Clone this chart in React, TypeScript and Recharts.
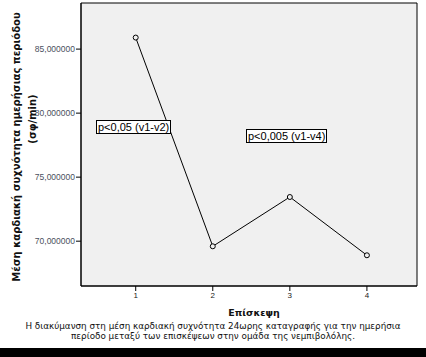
import { LineChart, Line, XAxis, YAxis, ReferenceArea } from "recharts";

const visits = [1, 2, 3, 4];
const meanHeartRate = [85.9, 69.6, 73.45, 68.9];
const yTicks = [70, 75, 80, 85];
const yAxisTitle = "Μέση καρδιακή συχνότητα ημερήσιας περιόδου";
const yAxisUnit = "(σφ/min)";
const xAxisTitle = "Επίσκεψη";
const captionLines = [
  "Η διακύμανση στη μέση καρδιακή συχνότητα 24ωρης καταγραφής για την ημερήσια",
  "περίοδο μεταξύ των επισκέψεων στην ομάδα της νεμπιβολόλης.",
];
const notes = ["p<0,05 (v1-v2)", "p<0,005 (v1-v4)"];

const data = visits.map((v, i) => ({ visit: v, hr: meanHeartRate[i] }));

const X_DOMAIN: [number, number] = [0.29, 4.65];
const Y_DOMAIN: [number, number] = [66.5, 88.6];

const fmt = (v: number) => v.toFixed(6).replace(".", ",");

const noteBox: React.CSSProperties = {
  position: "absolute",
  background: "#fff",
  border: "1px solid #000",
  fontFamily: "'Liberation Sans', Arial, sans-serif",
  fontSize: 11,
  lineHeight: "12px",
  padding: "0 1px",
  color: "#000",
  whiteSpace: "nowrap",
};

const rotTitle: React.CSSProperties = {
  position: "absolute",
  transform: "translate(-50%, -50%) rotate(-90deg)",
  fontFamily: "'DejaVu Sans', sans-serif",
  fontWeight: "bold",
  fontSize: 10,
  lineHeight: "12px",
  whiteSpace: "nowrap",
  color: "#111",
};

export default function App() {
  return (
    <div style={{ position: "relative", width: 426, height: 357, background: "#fff", overflow: "hidden" }}>
      <style>{`body{margin:0}`}</style>
      <LineChart
        width={426}
        height={357}
        data={data}
        margin={{ top: 3, right: 9, left: 0, bottom: 51 }}
      >
        <ReferenceArea
          x1={X_DOMAIN[0]}
          x2={X_DOMAIN[1]}
          y1={Y_DOMAIN[0]}
          y2={Y_DOMAIN[1]}
          fill="#f0f0f0"
          fillOpacity={1}
          stroke="#000"
          strokeWidth={1}
        />
        <XAxis
          dataKey="visit"
          type="number"
          domain={X_DOMAIN}
          ticks={visits}
          height={20}
          axisLine={{ stroke: "#000" }}
          tickLine={{ stroke: "#000" }}
          tickSize={5}
          tickMargin={1}
          tick={{ fill: "#222", fontSize: 8, fontFamily: "'Liberation Sans', Arial, sans-serif" }}
        />
        <YAxis
          type="number"
          domain={Y_DOMAIN}
          ticks={yTicks}
          width={81}
          tickFormatter={fmt}
          axisLine={{ stroke: "#000" }}
          tickLine={{ stroke: "#000" }}
          tickSize={5}
          tickMargin={1}
          tick={{ fill: "#4a5060", fontSize: 8.5, fontFamily: "'Liberation Sans', Arial, sans-serif" }}
        />
        <Line
          dataKey="hr"
          type="linear"
          stroke="#000"
          strokeWidth={1}
          dot={{ r: 2.5, fill: "#f0f0f0", stroke: "#000", strokeWidth: 1 }}
          isAnimationActive={false}
        />
      </LineChart>

      <div style={{ ...noteBox, left: 96, top: 120 }}>{notes[0]}</div>
      <div style={{ ...noteBox, left: 246, top: 129 }}>{notes[1]}</div>

      <div style={{ ...rotTitle, left: 17, top: 147 }}>{yAxisTitle}</div>
      <div style={{ ...rotTitle, left: 33, top: 119 }}>{yAxisUnit}</div>

      <div
        style={{
          position: "absolute",
          left: 254,
          top: 312,
          transform: "translate(-50%, -50%)",
          fontFamily: "'DejaVu Sans', sans-serif",
          fontWeight: "bold",
          fontSize: 9.5,
          whiteSpace: "nowrap",
          color: "#111",
        }}
      >
        {xAxisTitle}
      </div>

      <div
        style={{
          position: "absolute",
          left: 0,
          width: 426,
          top: 321,
          textAlign: "center",
          fontFamily: "'DejaVu Sans', sans-serif",
          fontSize: 8.8,
          lineHeight: "10px",
          color: "#111",
        }}
      >
        {captionLines.map((l) => (
          <div key={l}>{l}</div>
        ))}
      </div>

      <div style={{ position: "absolute", left: 0, top: 348, width: 426, height: 9, background: "#000" }} />
    </div>
  );
}
